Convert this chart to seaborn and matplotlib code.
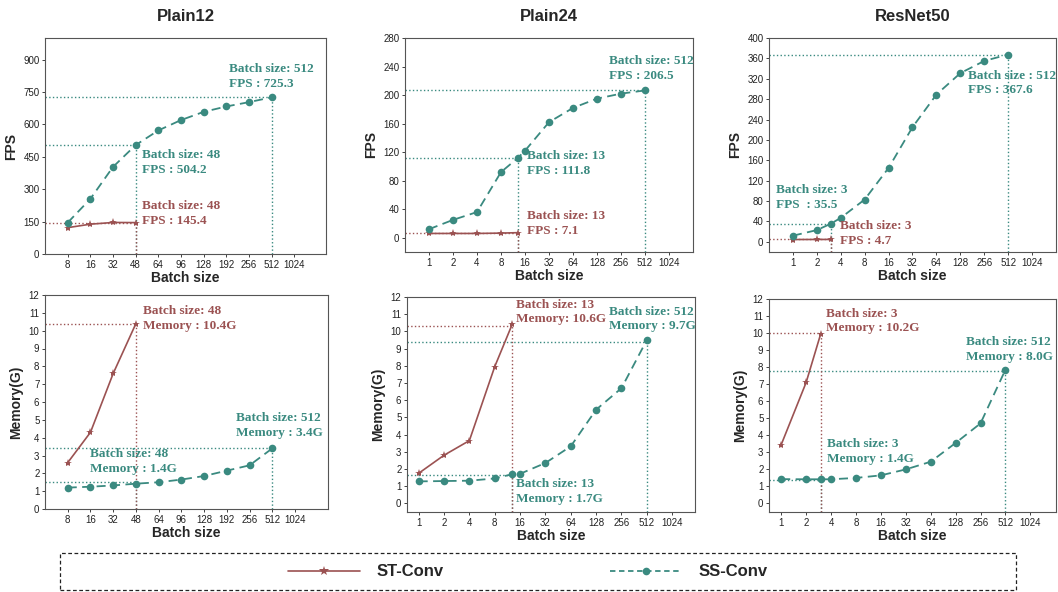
import numpy as np
import pandas as pd
import matplotlib
matplotlib.use("Agg")
import matplotlib.pyplot as plt
import seaborn as sns
from matplotlib.patches import Rectangle
from matplotlib.lines import Line2D

sns.set_theme(style="white")
plt.rcParams['font.family'] = ['Liberation Sans', 'DejaVu Sans']

RED = '#9b5252'
TEAL = '#3a8a80'

# ---------------- data ----------------
# Plain12 (categorical x axis)
p12_ticks = [8, 16, 32, 48, 64, 96, 128, 192, 256, 512, 1024]
p12_ss_bs = [8, 16, 32, 48, 64, 96, 128, 192, 256, 512]
p12_ss_fps = [145, 255, 403, 504.2, 572, 620, 658, 683, 703, 725.3]
p12_st_bs = [8, 16, 32, 48]
p12_st_fps = [122, 138, 146, 145.4]
p12_ss_mem = [1.2, 1.25, 1.32, 1.42, 1.5, 1.65, 1.85, 2.15, 2.45, 3.4]
p12_st_mem = [2.6, 4.3, 7.6, 10.4]

# Plain24 (log2 x axis)
log_ticks = [1, 2, 4, 8, 16, 32, 64, 128, 256, 512, 1024]
p24_ss_bs = [1, 2, 4, 8, 13, 16, 32, 64, 128, 256, 512]
p24_ss_fps = [12, 25, 36, 92, 111.8, 122, 162, 182, 195, 202, 206.5]
p24_st_bs = [1, 2, 4, 8, 13]
p24_st_fps = [6, 6, 6, 6.5, 7.1]
p24_ss_mem = [1.28, 1.3, 1.32, 1.45, 1.7, 1.72, 2.35, 3.32, 5.45, 6.7, 9.5]
p24_st_mem = [1.75, 2.8, 3.65, 7.95, 10.45]

# ResNet50 (log2 x axis)
r50_ss_bs = [1, 2, 3, 4, 8, 16, 32, 64, 128, 256, 512]
r50_ss_fps = [12, 23, 35.5, 47, 83, 145, 225, 289, 331, 355, 367.6]
r50_st_bs = [1, 2, 3]
r50_st_fps = [4.5, 4.6, 4.7]
r50_ss_mem = [1.43, 1.42, 1.42, 1.42, 1.5, 1.65, 2.0, 2.45, 3.55, 4.7, 7.85]
r50_st_mem = [3.45, 7.1, 9.95]

W, H = 1058, 592
fig = plt.figure(figsize=(W / 100, H / 100), dpi=100)
fig.patch.set_facecolor('white')


def add_ax(x0, y0, x1, y1):
    return fig.add_axes([x0 / W, 1 - y1 / H, (x1 - x0) / W, (y1 - y0) / H])


def pos_cat(b):
    return [p12_ticks.index(v) for v in b]


def pos_log(b):
    return list(np.log2(b))


def draw(ax, xs_ss, ys_ss, xs_st, ys_st):
    sns.lineplot(x=xs_st, y=ys_st, ax=ax, color=RED, marker='*', markersize=6,
                 markeredgewidth=0, linewidth=1.2, estimator=None, sort=False)
    sns.lineplot(x=xs_ss, y=ys_ss, ax=ax, color=TEAL, marker='o', markersize=5.5,
                 markeredgewidth=0, linewidth=1.3, linestyle=(0, (5, 3)),
                 estimator=None, sort=False)


def guide(ax, x, y, color):
    x0, _ = ax.get_xlim()
    y0, _ = ax.get_ylim()
    ax.plot([x0, x], [y, y], linestyle=':', color=color, linewidth=1.0, zorder=1)
    ax.plot([x, x], [y0, y], linestyle=':', color=color, linewidth=1.0, zorder=1)


def note(ax, x, y, text, color):
    ax.text(x, y, text, color=color, fontsize=9.5, fontweight='bold',
            family=['Liberation Serif', 'DejaVu Serif'], va='top', ha='left',
            linespacing=1.3)


def style(ax, ticks, xlim, ylim, yticks, ylabel, title=None):
    ax.set_xlim(*xlim)
    ax.set_ylim(*ylim)
    ax.set_xticks(ticks)
    ax.set_yticks(yticks)
    ax.tick_params(axis='both', labelsize=7, length=2, width=0.6, pad=2,
                   colors='#222222', direction='out', bottom=True, left=True)
    for s in ax.spines.values():
        s.set_color('#555555')
        s.set_linewidth(0.8)
    ax.set_xlabel('Batch size', fontsize=10, fontweight='bold', labelpad=1)
    ax.set_ylabel(ylabel, fontsize=10, fontweight='bold', labelpad=4)
    if title:
        ax.set_title(title, fontsize=12, fontweight='bold', pad=12)


# ----- Plain12 FPS -----
ax = add_ax(45, 38, 326, 254)
draw(ax, pos_cat(p12_ss_bs), p12_ss_fps, pos_cat(p12_st_bs), p12_st_fps)
style(ax, range(11), (-1, 11.4), (0, 1000), range(0, 901, 150), 'FPS', 'Plain12')
ax.set_xticklabels(p12_ticks)
guide(ax, 9, p12_ss_fps[-1], TEAL)
guide(ax, 3, p12_ss_fps[3], TEAL)
guide(ax, 3, p12_st_fps[-1], RED)
note(ax, 7.1, 885, 'Batch size: 512\nFPS : 725.3', TEAL)
note(ax, 3.3, 485, 'Batch size: 48\nFPS : 504.2', TEAL)
note(ax, 3.3, 250, 'Batch size: 48\nFPS : 145.4', RED)

# ----- Plain24 FPS -----
ax = add_ax(405, 38, 693, 252)
draw(ax, pos_log(p24_ss_bs), p24_ss_fps, pos_log(p24_st_bs), p24_st_fps)
style(ax, range(11), (-1, 11), (-20, 280), range(0, 281, 40), 'FPS', 'Plain24')
ax.set_xticklabels(log_ticks)
guide(ax, 9, p24_ss_fps[-1], TEAL)
guide(ax, np.log2(13), p24_ss_fps[4], TEAL)
guide(ax, np.log2(13), p24_st_fps[-1], RED)
note(ax, 7.5, 256, 'Batch size: 512\nFPS : 206.5', TEAL)
note(ax, 4.1, 123, 'Batch size: 13\nFPS : 111.8', TEAL)
note(ax, 4.1, 39, 'Batch size: 13\nFPS : 7.1', RED)

# ----- ResNet50 FPS -----
ax = add_ax(769, 38, 1056, 252)
draw(ax, pos_log(r50_ss_bs), r50_ss_fps, pos_log(r50_st_bs), r50_st_fps)
style(ax, range(11), (-1, 11), (-20, 400), range(0, 401, 40), 'FPS', 'ResNet50')
ax.set_xticklabels(log_ticks)
guide(ax, 9, r50_ss_fps[-1], TEAL)
guide(ax, np.log2(3), r50_ss_fps[2], TEAL)
guide(ax, np.log2(3), r50_st_fps[-1], RED)
note(ax, 7.3, 338, 'Batch size : 512\nFPS : 367.6', TEAL)
note(ax, -0.7, 113, 'Batch size: 3\nFPS  : 35.5', TEAL)
note(ax, 1.95, 43, 'Batch size: 3\nFPS : 4.7', RED)

# ----- Plain12 Memory -----
ax = add_ax(45, 295, 328, 509)
draw(ax, pos_cat(p12_ss_bs), p12_ss_mem, pos_cat(p12_st_bs), p12_st_mem)
style(ax, range(11), (-1, 11.45), (0, 12), range(0, 13), 'Memory(G)')
ax.set_xticklabels(p12_ticks)
guide(ax, 9, p12_ss_mem[-1], TEAL)
guide(ax, 3, 1.5, TEAL)
guide(ax, 3, p12_st_mem[-1], RED)
note(ax, 3.3, 11.45, 'Batch size: 48\nMemory : 10.4G', RED)
note(ax, 7.4, 5.45, 'Batch size: 512\nMemory : 3.4G', TEAL)
note(ax, 1.0, 3.4, 'Batch size: 48\nMemory : 1.4G', TEAL)

# ----- Plain24 Memory -----
ax = add_ax(407, 297, 695, 512)
draw(ax, pos_log(p24_ss_bs), p24_ss_mem, pos_log(p24_st_bs), p24_st_mem)
style(ax, range(11), (-0.46, 10.9), (-0.5, 12), range(0, 13), 'Memory(G)')
ax.set_xticklabels(log_ticks)
guide(ax, 9, 9.4, TEAL)
guide(ax, np.log2(13), 1.65, TEAL)
guide(ax, np.log2(13), 10.3, RED)
note(ax, 3.85, 11.9, 'Batch size: 13\nMemory: 10.6G', RED)
note(ax, 7.5, 11.5, 'Batch size: 512\nMemory : 9.7G', TEAL)
note(ax, 3.85, 1.45, 'Batch size: 13\nMemory : 1.7G', TEAL)

# ----- ResNet50 Memory -----
ax = add_ax(769, 299, 1056, 512)
draw(ax, pos_log(r50_ss_bs), r50_ss_mem, pos_log(r50_st_bs), r50_st_mem)
style(ax, range(11), (-0.49, 11.03), (-0.5, 12), range(0, 13), 'Memory(G)')
ax.set_xticklabels(log_ticks)
guide(ax, 9, 7.75, TEAL)
guide(ax, np.log2(3), 1.4, TEAL)
guide(ax, np.log2(3), 10.0, RED)
note(ax, 1.8, 11.5, 'Batch size: 3\nMemory : 10.2G', RED)
note(ax, 7.4, 9.8, 'Batch size: 512\nMemory : 8.0G', TEAL)
note(ax, 1.84, 3.82, 'Batch size: 3\nMemory : 1.4G', TEAL)

# ----- legend -----
fig.patches.append(Rectangle((60 / W, 1 - 590 / H), (1016 - 60) / W, 37 / H,
                             transform=fig.transFigure, fill=False,
                             edgecolor='#222222', linestyle=(0, (3, 2)),
                             linewidth=0.9))
handles = [
    Line2D([], [], color=RED, marker='*', markersize=7, markeredgewidth=0, linewidth=1.2),
    Line2D([], [], color=TEAL, marker='o', markersize=5.5, markeredgewidth=0,
           linewidth=1.3, linestyle=(0, (3, 2))),
]
leg = fig.legend(handles, ['ST-Conv', 'SS-Conv'], loc='center',
                 bbox_to_anchor=(528 / W, 1 - 572 / H), ncol=2, frameon=False,
                 handlelength=4.3, handletextpad=1.0, columnspacing=10,
                 prop={'weight': 'bold', 'size': 12})

fig.savefig('out.png', dpi=100, facecolor='white')
